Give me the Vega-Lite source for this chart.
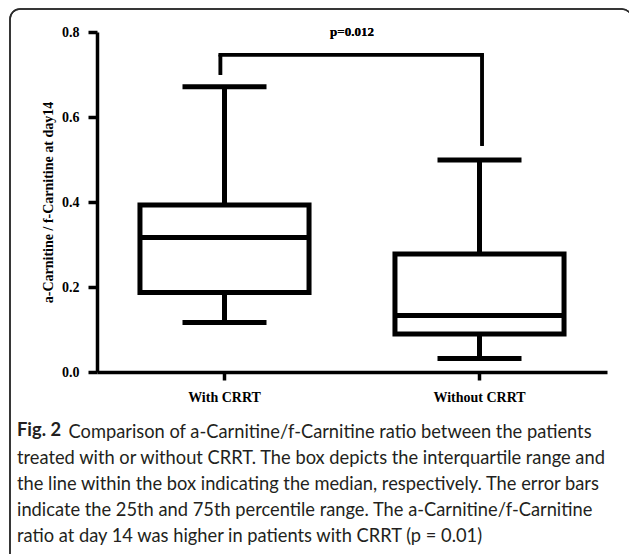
{
  "$schema": "https://vega.github.io/schema/vega-lite/v6.json",
  "width": 510,
  "height": 340,
  "autosize": {"type": "none"},
  "padding": {"left": 97, "top": 32, "right": 22, "bottom": 182},
  "background": "white",
  "config": {
    "view": {"stroke": null},
    "axis": {
      "domainColor": "black", "domainWidth": 3.5, "tickColor": "black", "tickWidth": 3.5,
      "labelFont": "Liberation Serif", "labelFontWeight": "bold", "labelFontSize": 14, "labelColor": "black",
      "titleFont": "Liberation Serif", "titleFontWeight": "bold", "titleFontSize": 14, "titleColor": "black",
      "grid": false
    }
  },
  "title": {
    "text": "Fig. 2",
    "subtitle": [
      "\u200b\u00a0\u00a0\u00a0\u00a0\u00a0\u00a0\u00a0\u00a0\u00a0\u00a0\u00a0Comparison of a-Carnitine/f-Carnitine ratio between the patients",
      "treated with or without CRRT. The box depicts the interquartile range and",
      "the line within the box indicating the median, respectively. The error bars",
      "indicate the 25th and 75th percentile range. The a-Carnitine/f-Carnitine",
      "ratio at day 14 was higher in patients with CRRT (p = 0.01)"
    ],
    "orient": "bottom",
    "anchor": "start",
    "frame": "group",
    "dx": -80,
    "offset": -144,
    "font": "Lato", "fontSize": 18.3, "fontWeight": "bold", "color": "#231f20",
    "subtitleFont": "Lato", "subtitleFontSize": 18.3, "subtitleFontWeight": "normal", "subtitleColor": "#231f20",
    "subtitleLineHeight": 26,
    "subtitlePadding": -16
  },
  "data": {
    "values": [
      {"group": "With CRRT", "min": 0.1165, "q1": 0.187, "median": 0.3165, "q3": 0.393, "max": 0.671},
      {"group": "Without CRRT", "min": 0.032, "q1": 0.0894, "median": 0.133, "q3": 0.2776, "max": 0.499}
    ]
  },
  "resolve": {"scale": {"x": "independent"}},
  "layer": [
    {
      "encoding": {
        "x": {
          "field": "group", "type": "nominal",
          "scale": {"type": "band", "domain": ["With CRRT", "Without CRRT"], "paddingInner": 0, "paddingOuter": 0},
          "axis": {"title": null, "labelAngle": 0, "tickSize": 8, "labelPadding": 10}
        }
      },
      "layer": [
        {
          "mark": {"type": "rule", "strokeWidth": 5, "color": "black"},
          "encoding": {
            "y": {"field": "min", "type": "quantitative",
              "scale": {"domain": [0, 0.8], "nice": false, "zero": false, "padding": 0},
              "axis": {"title": "a-Carnitine / f-Carnitine at day14", "values": [0, 0.2, 0.4, 0.6, 0.8], "format": ".1f", "tickSize": 9, "labelPadding": 9, "titlePadding": 6}},
            "y2": {"field": "max"}
          }
        },
        {
          "mark": {"type": "bar", "fill": "white", "stroke": "black", "strokeWidth": 5, "width": {"band": 0.663}},
          "encoding": {
            "y": {"field": "q1", "type": "quantitative"},
            "y2": {"field": "q3"}
          }
        },
        {
          "mark": {"type": "tick", "color": "black", "opacity": 1, "size": 169, "thickness": 5},
          "encoding": {"y": {"field": "median", "type": "quantitative"}}
        },
        {
          "mark": {"type": "tick", "color": "black", "opacity": 1, "size": 84, "thickness": 5},
          "encoding": {"y": {"field": "min", "type": "quantitative"}}
        },
        {
          "mark": {"type": "tick", "color": "black", "opacity": 1, "size": 84, "thickness": 5},
          "encoding": {"y": {"field": "max", "type": "quantitative"}}
        },
        {
          "mark": {"type": "rule", "strokeWidth": 3.5, "color": "black", "strokeCap": "square"},
          "encoding": {
            "x": {"datum": "With CRRT", "bandPosition": 0.484},
            "x2": {"datum": "Without CRRT", "bandPosition": 0.51},
            "y": {"datum": 0.7466, "type": "quantitative"}
          }
        },
        {
          "mark": {"type": "rule", "strokeWidth": 3.5, "color": "black"},
          "encoding": {
            "x": {"datum": "With CRRT", "bandPosition": 0.484},
            "y": {"datum": 0.699, "type": "quantitative"},
            "y2": {"datum": 0.7466}
          }
        },
        {
          "mark": {"type": "rule", "strokeWidth": 3.5, "color": "black"},
          "encoding": {
            "x": {"datum": "Without CRRT", "bandPosition": 0.51},
            "y": {"datum": 0.532, "type": "quantitative"},
            "y2": {"datum": 0.7466}
          }
        }
      ]
    },
    {
      "encoding": {},
      "layer": [
        {
          "mark": {"type": "rect", "fill": null, "fillOpacity": 0, "stroke": "#2a2a2a", "strokeWidth": 1.5, "cornerRadius": 10, "clip": false},
          "encoding": {
            "x": {"datum": -0.1706, "type": "quantitative", "scale": {"domain": [0, 1], "nice": false, "zero": false, "padding": 0}, "axis": null},
            "x2": {"datum": 1.049},
            "y": {"datum": 0.854, "type": "quantitative"},
            "y2": {"datum": -0.454}
          }
        },
        {
          "mark": {"type": "text", "text": "p=0.012", "font": "Liberation Serif", "fontWeight": "bold", "fontSize": 13, "color": "black", "baseline": "middle", "align": "center"},
          "encoding": {
            "x": {"datum": 0.5, "type": "quantitative"},
            "y": {"datum": 0.8, "type": "quantitative"}
          }
        }
      ]
    }
  ]
}
